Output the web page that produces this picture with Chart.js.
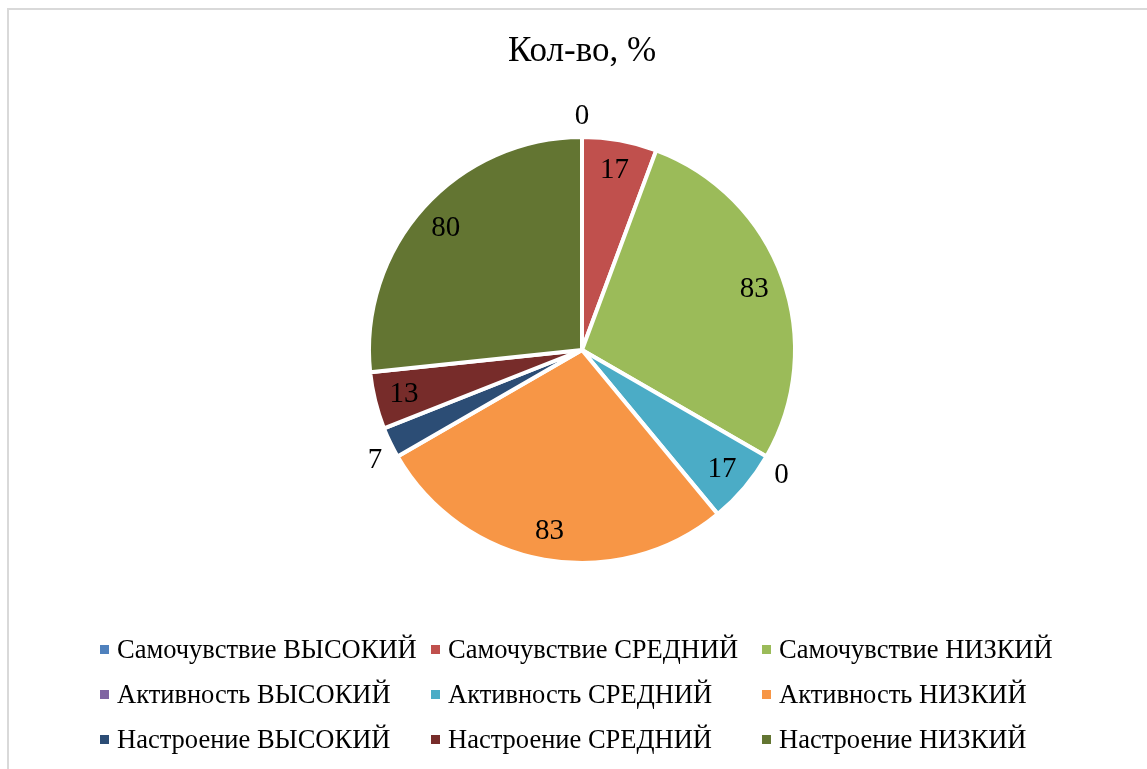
<!DOCTYPE html>
<html>
<head>
<meta charset="utf-8">
<script src="https://cdn.jsdelivr.net/npm/chart.js@4"></script>
<style>
  html, body { margin: 0; padding: 0; background: #fff; width: 1147px; height: 769px; overflow: hidden; }
  #wrap { position: relative; width: 1147px; height: 769px; }
  #frame { position: absolute; left: 7px; top: 8px; width: 1160px; height: 800px; border-left: 2px solid #d9d9d9; border-top: 2px solid #d9d9d9; box-sizing: border-box; }
  canvas { position: absolute; left: 0; top: 0; }
  #title { position: absolute; left: 0; width: 1164px; top: 28px; text-align: center; font-family: "Liberation Serif", "Times New Roman", serif; font-size: 35px; color: #000; line-height: 44px; }
  #legend { position: absolute; left: 100px; top: 627px; font-family: "Liberation Serif", "Times New Roman", serif; font-size: 26.5px; color: #000; }
  .item { position: absolute; white-space: nowrap; height: 45px; line-height: 45px; }
  .box { display: inline-block; width: 9px; height: 9px; margin-right: 8px; vertical-align: middle; position: relative; top: -2px; }
</style>
</head>
<body>
<div id="wrap">
  <div id="frame"></div>
  <canvas id="c" width="1147" height="769"></canvas>
  <div id="title"></div>
  <div id="legend"></div>
</div>
<script>
const chartTitle = "Кол-во, %";
const categories = [
  "Самочувствие ВЫСОКИЙ", "Самочувствие СРЕДНИЙ", "Самочувствие НИЗКИЙ",
  "Активность ВЫСОКИЙ", "Активность СРЕДНИЙ", "Активность НИЗКИЙ",
  "Настроение ВЫСОКИЙ", "Настроение СРЕДНИЙ", "Настроение НИЗКИЙ"
];
const values = [0, 17, 83, 0, 17, 83, 7, 13, 80];
const colors = ["#4F81BD", "#C0504D", "#9BBB59", "#8064A2", "#4BACC6", "#F79646", "#2C4D75", "#772C2A", "#637532"];

document.getElementById('title').textContent = chartTitle;

// HTML legend in a 3-column grid
const legend = document.getElementById('legend');
categories.forEach((name, i) => {
  const it = document.createElement('div');
  it.className = 'item';
  it.style.left = ((i % 3) * 331) + 'px';
  it.style.top = (Math.floor(i / 3) * 45) + 'px';
  const b = document.createElement('span');
  b.className = 'box';
  b.style.background = colors[i];
  it.appendChild(b);
  it.appendChild(document.createTextNode(name));
  legend.appendChild(it);
});

const labelPlugin = {
  id: 'sliceLabels',
  afterDatasetsDraw(chart) {
    const ctx = chart.ctx;
    const meta = chart.getDatasetMeta(0);
    const data = chart.data.datasets[0].data;
    ctx.save();
    ctx.font = '29px "Liberation Serif", "Times New Roman", serif';
    ctx.fillStyle = '#000';
    ctx.textAlign = 'center';
    ctx.textBaseline = 'middle';
    meta.data.forEach((arc, i) => {
      const p = arc.getProps(['x', 'y', 'startAngle', 'endAngle', 'outerRadius'], true);
      const mid = (p.startAngle + p.endAngle) / 2;
      const dx = Math.cos(mid), dy = Math.sin(mid);
      const txt = String(data[i]);
      let x, y;
      if (data[i] < 10) {
        const w = ctx.measureText(txt).width;
        const h = 26;
        const d = p.outerRadius + 9;
        x = p.x + dx * d + Math.sign(Math.round(dx * 100)) * w / 2;
        y = p.y + dy * d + Math.sign(Math.round(dy * 100)) * h / 2;
      } else {
        const d = p.outerRadius * 0.86;
        x = p.x + dx * d;
        y = p.y + dy * d;
      }
      ctx.fillText(txt, x, y + 1);
    });
    ctx.restore();
  }
};

new Chart(document.getElementById('c'), {
  type: 'pie',
  data: {
    labels: categories,
    datasets: [{
      data: values,
      backgroundColor: colors,
      borderColor: '#ffffff',
      borderWidth: 4
    }]
  },
  options: {
    responsive: false,
    animation: false,
    radius: 213,
    layout: { padding: { left: 17, right: 0, top: 0, bottom: 69 } },
    plugins: {
      legend: { display: false },
      title: { display: false },
      tooltip: { enabled: false }
    }
  },
  plugins: [labelPlugin]
});
</script>
</body>
</html>
